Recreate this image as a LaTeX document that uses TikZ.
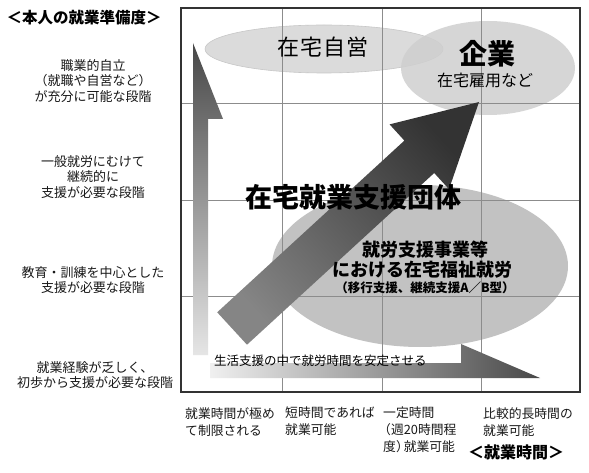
\documentclass[tikz,border=0pt]{standalone}
\usepackage{fontspec}
\setmainfont{Noto Sans CJK JP}
\begin{document}
\begin{tikzpicture}[x=1pt,y=-1pt]
\tikzset{
 lbl/.style={align=center, font=\fontsize{13}{15.5}\selectfont, inner sep=0pt, text=black!90},
 btm/.style={align=left, anchor=north west, font=\fontsize{12.8}{17}\selectfont, inner sep=0pt, text=black!90},
 gridln/.style={draw=black!45, line width=0.8pt},
 frameln/.style={draw=black!80, line width=1.4pt},
 ovalA/.style={fill=black!14, draw=black!22, line width=0.6pt},
 ovalB/.style={fill=black!19, fill opacity=0.85, draw=none},
 ovalC/.style={fill=black!24, draw=none},
}
\useasboundingbox (0,0) rectangle (589,473);
\fill[white] (0,0) rectangle (589,473);

% ellipses
\path[ovalA] (324,49) ellipse [x radius=119, y radius=24];
\path[ovalB] (488,68) ellipse [x radius=87, y radius=47];
\path[ovalC] (420,266) ellipse [x radius=148, y radius=81];

% grid
\foreach \gx in {282,382,481} \draw[gridln] (\gx,8) -- (\gx,392);
\foreach \gy in {103,200,296} \draw[gridln] (181,\gy) -- (580,\gy);
\draw[frameln] (181,8) rectangle (580,392);

% vertical arrow
\shade[top color=black!72, bottom color=black!10]
  (193,355) -- (193,43) -- (223,119) -- (208,119) -- (208,355) -- cycle;
% horizontal arrow
\shade[left color=black!6, right color=black!72]
  (210,363) -- (461,363) -- (461,344) -- (540,378) -- (210,378) -- cycle;
% diagonal arrow
\shade[top color=black!80, bottom color=black!48, shading angle=-48]
  (479,102) -- (449,189.2) -- (434.2,173) -- (247,344.7) -- (217.2,312.3)
  -- (404.4,140.6) -- (389.6,124.4) -- cycle;

% texts in plot
\node[inner sep=0pt, font=\fontsize{22}{24}\selectfont] (jiei) at (323,47) {在\kern1pt 宅\kern1pt 自\kern1pt 営};
\node[inner sep=0pt, font=\bfseries\fontsize{28}{30}\selectfont] (kigyo) at (487,54) {企業};
\node[inner sep=0pt, font=\fontsize{16}{18}\selectfont] (koyo) at (485,80) {在宅雇用など};
\node[inner sep=0pt, font=\bfseries\fontsize{27}{30}\selectfont] (dantai) at (353,197) {在宅就業支援団体};
\node[inner sep=0pt, font=\bfseries\fontsize{18}{20}\selectfont] (shuro1) at (425,250) {就労支援事業等};
\node[inner sep=0pt, font=\bfseries\fontsize{18}{20}\selectfont] (shuro2) at (422,270) {における在宅福祉就労};
\node[inner sep=0pt, font=\bfseries\fontsize{12.5}{14}\selectfont] (shuro3) at (425,288) {（移行支援、継続支援A／B型）};
\node[inner sep=0pt, anchor=west, font=\fontsize{12.5}{14}\selectfont] (seikatsu) at (214,361) {生活支援の中で就労時間を安定させる};

% left labels
\node[inner sep=0pt, font=\bfseries\fontsize{15.5}{18}\selectfont] (ytitle) at (84,18) {＜本人の就業準備度＞};
\node[lbl] (l1) at (93,81) {職業的自立\\（就職や自営など）\\が充分に可能な段階};
\node[lbl] (l2) at (93,177) {一般就労にむけて\\継続的に\\支援が必要な段階};
\node[lbl] (l3) at (93,280) {教育・訓練を中心とした\\支援が必要な段階};
\node[lbl] (l4) at (95,375) {就業経験が乏しく、\\初歩から支援が必要な段階};

% bottom labels
\node[btm] (b1) at (185,407) {就業時間が極め\\て制限される};
\node[btm] (b2) at (285,407) {短時間であれば\\就業可能};
\node[btm] (b3) at (383,407) {一定時間\\\kern-5pt（週20時間程\\度）\kern-5pt 就業可能};
\node[btm] (b4) at (483,407) {比較的長時間の\\就業可能};
\node[inner sep=0pt, font=\bfseries\fontsize{16}{18}\selectfont] (xtitle) at (516,452) {＜就業時間＞};
\end{tikzpicture}
\end{document}
